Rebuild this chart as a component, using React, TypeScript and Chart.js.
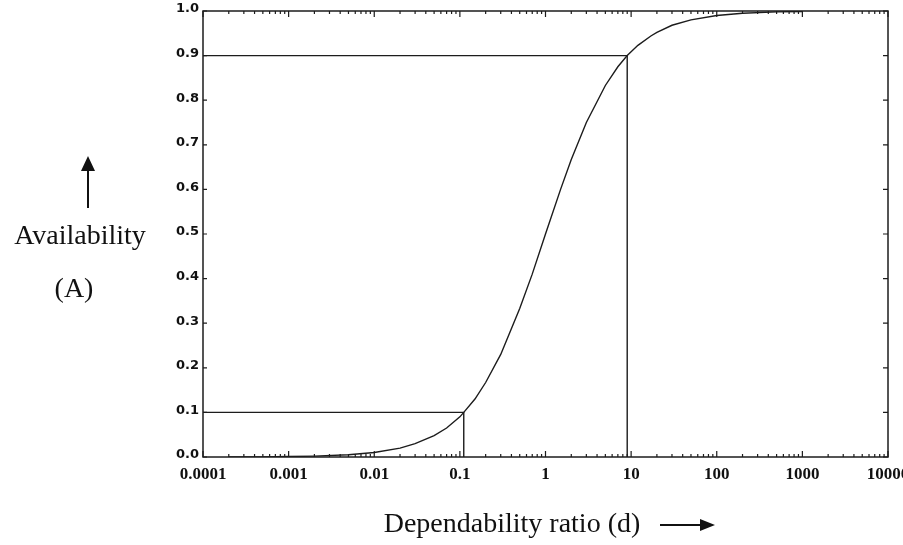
import React, { useEffect, useRef } from "react";
import { Chart, registerables } from "chart.js";

Chart.register(...registerables);

// Dependability ratio (d) on log axis
const curveD = [0.0002, 0.0005, 0.001, 0.002, 0.005, 0.01, 0.02, 0.03, 0.05, 0.07, 0.1, 0.111, 0.15, 0.2, 0.3, 0.5, 0.7, 1, 1.5, 2, 3, 5, 7, 9, 12, 17, 20, 30, 50, 100, 200, 500, 1000];
// Availability (A)
const curveA = [0.0, 0.0, 0.001, 0.002, 0.005, 0.01, 0.02, 0.03, 0.048, 0.065, 0.09, 0.1, 0.13, 0.167, 0.23, 0.333, 0.41, 0.5, 0.6, 0.667, 0.75, 0.833, 0.875, 0.9, 0.923, 0.944, 0.952, 0.968, 0.98, 0.99, 0.995, 0.998, 0.999];

// Reference lines: A = 0.1 at d ≈ 0.111, A = 0.9 at d ≈ 9
const lowRefD = [0.0001, 0.111, 0.111];
const lowRefA = [0.1, 0.1, 0.0];
const highRefD = [0.0001, 9, 9];
const highRefA = [0.9, 0.9, 0.0];

const xTickValues = [0.0001, 0.001, 0.01, 0.1, 1, 10, 100, 1000, 10000];
const xTickLabels = ["0.0001", "0.001", "0.01", "0.1", "1", "10", "100", "1000", "10000"];
const yTickValues = [0, 0.1, 0.2, 0.3, 0.4, 0.5, 0.6, 0.7, 0.8, 0.9, 1.0];
const yTickLabels = ["0.0", "0.1", "0.2", "0.3", "0.4", "0.5", "0.6", "0.7", "0.8", "0.9", "1.0"];

const yTitle = "Availability";
const yTitle2 = "(A)";
const xTitle = "Dependability ratio (d)";

const INK = "#1c1c1c";

const decorPlugin = {
  id: "decor",
  afterDraw(chart: any) {
    const ctx = chart.ctx;
    const { left, right, top, bottom } = chart.chartArea;
    const xs = chart.scales.x;
    const ys = chart.scales.y;
    ctx.save();
    ctx.strokeStyle = INK;
    ctx.lineWidth = 1.5;
    ctx.strokeRect(left, top, right - left, bottom - top);

    // x ticks (inward) bottom and top, major + minor
    ctx.lineWidth = 1.2;
    ctx.beginPath();
    for (let i = 0; i < xTickValues.length; i++) {
      const dec = xTickValues[i];
      const px = xs.getPixelForValue(dec);
      ctx.moveTo(px, bottom);
      ctx.lineTo(px, bottom - 6);
      ctx.moveTo(px, top);
      ctx.lineTo(px, top + 6);
      if (i < xTickValues.length - 1) {
        for (let m = 2; m <= 9; m++) {
          const p = xs.getPixelForValue(dec * m);
          ctx.moveTo(p, bottom);
          ctx.lineTo(p, bottom - 3);
          ctx.moveTo(p, top);
          ctx.lineTo(p, top + 3);
        }
      }
    }
    // y ticks (inward) left and right
    for (const v of yTickValues) {
      const py = ys.getPixelForValue(v);
      ctx.moveTo(left, py);
      ctx.lineTo(left + 4, py);
      ctx.moveTo(right, py);
      ctx.lineTo(right - 5, py);
    }
    ctx.stroke();

    // titles
    ctx.fillStyle = "#111";
    ctx.font = "28px 'Liberation Serif', 'Times New Roman', serif";
    ctx.textAlign = "center";
    ctx.textBaseline = "alphabetic";
    ctx.fillText(yTitle, 80, 244);
    ctx.fillText(yTitle2, 74, 297);
    ctx.fillText(xTitle, 512, 532);

    // up arrow
    ctx.strokeStyle = "#111";
    ctx.lineWidth = 2;
    ctx.beginPath();
    ctx.moveTo(88, 208);
    ctx.lineTo(88, 166);
    ctx.stroke();
    ctx.beginPath();
    ctx.moveTo(88, 156);
    ctx.lineTo(81, 171);
    ctx.lineTo(95, 171);
    ctx.closePath();
    ctx.fill();

    // right arrow
    ctx.beginPath();
    ctx.moveTo(660, 525);
    ctx.lineTo(704, 525);
    ctx.stroke();
    ctx.beginPath();
    ctx.moveTo(715, 525);
    ctx.lineTo(700, 519);
    ctx.lineTo(700, 531);
    ctx.closePath();
    ctx.fill();
    ctx.restore();
  },
};

export default function App() {
  const ref = useRef<HTMLCanvasElement | null>(null);

  useEffect(() => {
    if (!ref.current) return;
    const lineStyle = {
      borderColor: INK,
      borderWidth: 1.4,
      pointRadius: 0,
      tension: 0,
      fill: false,
    };
    const chart = new Chart(ref.current, {
      type: "line",
      data: {
        datasets: [
          { ...lineStyle, label: "A", data: curveD.map((d, i) => ({ x: d, y: curveA[i] })) },
          { ...lineStyle, label: "low", data: lowRefD.map((d, i) => ({ x: d, y: lowRefA[i] })) },
          { ...lineStyle, label: "high", data: highRefD.map((d, i) => ({ x: d, y: highRefA[i] })) },
        ],
      },
      options: {
        animation: false,
        responsive: false,
        devicePixelRatio: 1,
        layout: { padding: { top: 11, right: 15, bottom: 0, left: 0 } },
        plugins: { legend: { display: false }, tooltip: { enabled: false } },
        scales: {
          x: {
            type: "logarithmic",
            min: 0.0001,
            max: 10000,
            grid: { display: false, drawTicks: false },
            border: { display: false },
            afterBuildTicks: (scale: any) => {
              scale.ticks = xTickValues.map((v) => ({ value: v }));
            },
            afterFit: (scale: any) => {
              scale.height = 88;
              scale.paddingLeft = 0;
              scale.paddingRight = 0;
            },
            ticks: {
              autoSkip: false,
              maxRotation: 0,
              padding: 7,
              color: "#111",
              font: { family: "'Liberation Serif', 'Times New Roman', serif", size: 17, weight: "bold" },
              callback: (_v: any, i: number) => xTickLabels[i],
            },
          },
          y: {
            type: "linear",
            min: 0,
            max: 1,
            grid: { display: false, drawTicks: false },
            border: { display: false },
            afterBuildTicks: (scale: any) => {
              scale.ticks = yTickValues.map((v) => ({ value: v }));
            },
            afterFit: (scale: any) => {
              scale.width = 203;
              scale.paddingTop = 0;
              scale.paddingBottom = 0;
            },
            ticks: {
              autoSkip: false,
              padding: 4,
              labelOffset: -2,
              color: "#111",
              font: { family: "'DejaVu Sans', Verdana, sans-serif", size: 13, weight: "bold" },
              callback: (_v: any, i: number) => yTickLabels[i],
            },
          },
        },
      },
      plugins: [decorPlugin],
    } as any);
    return () => chart.destroy();
  }, []);

  return (
    <div style={{ position: "fixed", left: 0, top: 0, width: 903, height: 545, background: "#fff" }}>
      <canvas ref={ref} width={903} height={545} style={{ display: "block" }} />
    </div>
  );
}
